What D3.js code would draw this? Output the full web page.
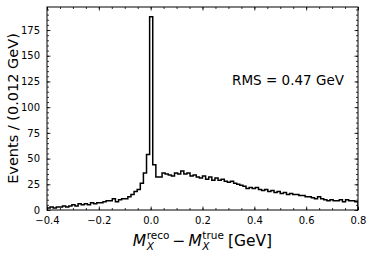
<!DOCTYPE html>
<html>
<head>
<meta charset="utf-8">
<script src="https://cdn.jsdelivr.net/npm/d3@7"></script>
<style>
  body { margin: 0; background: #fff; }
  text { font-family: "DejaVu Sans", sans-serif; fill: #000; }
</style>
</head>
<body>
<div id="chart"></div>
<script>
// Histogram of M_X reco - true, 100 bins of 0.012 GeV
const binStart = -0.4;
const binWidth = 0.012;
const counts = [
  2, 3, 2, 3, 3, 4, 3, 4, 5, 4, 6, 5, 6, 5, 7, 6, 7,
  7, 8, 9, 9, 11, 8, 10, 11, 11, 13, 15, 18, 20, 26, 36, 54,
  188,
  44,
  32, 32, 36, 35, 34, 33, 36, 35, 38, 35, 36, 33, 34, 32, 31, 33, 30, 32, 29, 31,
  29, 30, 28, 27, 28, 26, 25, 24, 23, 21, 22, 21, 22, 20, 19, 20, 18, 19, 17, 18,
  16, 17, 15, 16, 15, 15, 14, 14, 13, 13, 12, 11, 13, 11, 10, 9, 10, 9, 9, 10,
  8, 10, 9, 9, 8
];
const xTicks = [-0.4, -0.2, 0.0, 0.2, 0.4, 0.6, 0.8];
const yTicks = [0, 25, 50, 75, 100, 125, 150, 175];
const rmsText = "RMS = 0.47 GeV";

const width = 374, height = 257;
const margin = { top: 7, right: 16, bottom: 47, left: 47 };

const svg = d3.select('#chart').append('svg')
    .attr('width', width)
    .attr('height', height);

const x = d3.scaleLinear()
    .domain([-0.4, 0.8])
    .range([margin.left, width - margin.right]);

const y = d3.scaleLinear()
    .domain([0, d3.max(counts) * 1.05])
    .range([height - margin.bottom, margin.top]);

// step outline
const pts = [[binStart, 0]];
counts.forEach((c, i) => {
    pts.push([binStart + i * binWidth, c]);
    pts.push([binStart + (i + 1) * binWidth, c]);
});
pts.push([binStart + counts.length * binWidth, 0]);

svg.append('defs').append('clipPath').attr('id', 'clip')
    .append('rect')
    .attr('x', margin.left).attr('y', margin.top)
    .attr('width', width - margin.left - margin.right)
    .attr('height', height - margin.top - margin.bottom);

svg.append('path')
    .datum(pts)
    .attr('clip-path', 'url(#clip)')
    .attr('fill', 'none')
    .attr('stroke', '#000')
    .attr('stroke-width', 1.5)
    .attr('d', d3.line().x(d => x(d[0])).y(d => y(d[1])));

// axes with inward ticks on all sides
const xMinor = d3.range(-0.4, 0.8001, 0.05);
const yMinor = d3.range(0, y.domain()[1], 5);

function tickStyle(g) {
    g.select('.domain').remove();
    g.selectAll('.tick line').attr('stroke', '#000').attr('stroke-width', 0.8);
    g.selectAll('.tick text').attr('font-family', 'DejaVu Sans').attr('font-size', 10);
}

const bottomY = height - margin.bottom;
svg.append('g').attr('transform', `translate(0,${bottomY})`)
    .call(d3.axisBottom(x).tickValues(xTicks).tickSize(-3.5).tickPadding(7)
        .tickFormat(d => d3.format('.1f')(d).replace('-', '\u2212')))
    .call(tickStyle);
svg.append('g').attr('transform', `translate(0,${bottomY})`)
    .call(d3.axisBottom(x).tickValues(xMinor).tickSize(-2).tickFormat(''))
    .call(tickStyle);
svg.append('g').attr('transform', `translate(0,${margin.top})`)
    .call(d3.axisTop(x).tickValues(xTicks).tickSize(-3.5).tickFormat(''))
    .call(tickStyle);
svg.append('g').attr('transform', `translate(0,${margin.top})`)
    .call(d3.axisTop(x).tickValues(xMinor).tickSize(-2).tickFormat(''))
    .call(tickStyle);

svg.append('g').attr('transform', `translate(${margin.left},0)`)
    .call(d3.axisLeft(y).tickValues(yTicks).tickSize(-3.5).tickPadding(7))
    .call(tickStyle);
svg.append('g').attr('transform', `translate(${margin.left},0)`)
    .call(d3.axisLeft(y).tickValues(yMinor).tickSize(-2).tickFormat(''))
    .call(tickStyle);
svg.append('g').attr('transform', `translate(${width - margin.right},0)`)
    .call(d3.axisRight(y).tickValues(yTicks).tickSize(-3.5).tickFormat(''))
    .call(tickStyle);
svg.append('g').attr('transform', `translate(${width - margin.right},0)`)
    .call(d3.axisRight(y).tickValues(yMinor).tickSize(-2).tickFormat(''))
    .call(tickStyle);

// frame
svg.append('rect')
    .attr('x', margin.left).attr('y', margin.top)
    .attr('width', width - margin.left - margin.right)
    .attr('height', height - margin.top - margin.bottom)
    .attr('fill', 'none')
    .attr('stroke', '#000')
    .attr('stroke-width', 1);

// RMS annotation
svg.append('text')
    .attr('x', 288).attr('y', 85)
    .attr('text-anchor', 'middle')
    .attr('font-size', 13.5)
    .text(rmsText);

// y label
svg.append('text')
    .attr('transform', `translate(18,${(margin.top + bottomY) / 2}) rotate(-90)`)
    .attr('text-anchor', 'middle')
    .attr('font-size', 14.5)
    .text('Events / (0.012 GeV)');

// x label: M_X^reco − M_X^true [GeV]
const lab = svg.append('g');
let cx = 0;
const base = 246;
function piece(txt, opts) {
    const t = lab.append('text')
        .attr('x', cx).attr('y', base + (opts.dy || 0))
        .attr('font-size', opts.size || 15.5)
        .attr('font-style', opts.italic ? 'italic' : 'normal')
        .text(txt);
    return t.node().getComputedTextLength();
}
function mathTerm(sup) {
    const w = piece('M', { italic: true });
    cx += w + 0.5;
    const ws = piece(sup, { size: 10.5, dy: -7.5 });
    const wx = piece('X', { size: 10.5, italic: true, dy: 4 });
    cx += Math.max(ws, wx);
}
mathTerm('reco');
cx += 3;
cx += piece('\u2212', {}) + 3;
mathTerm('true');
cx += 4;
cx += piece('[GeV]', {});
lab.attr('transform', `translate(${x(0.2) - cx / 2},0)`);
</script>
</body>
</html>
